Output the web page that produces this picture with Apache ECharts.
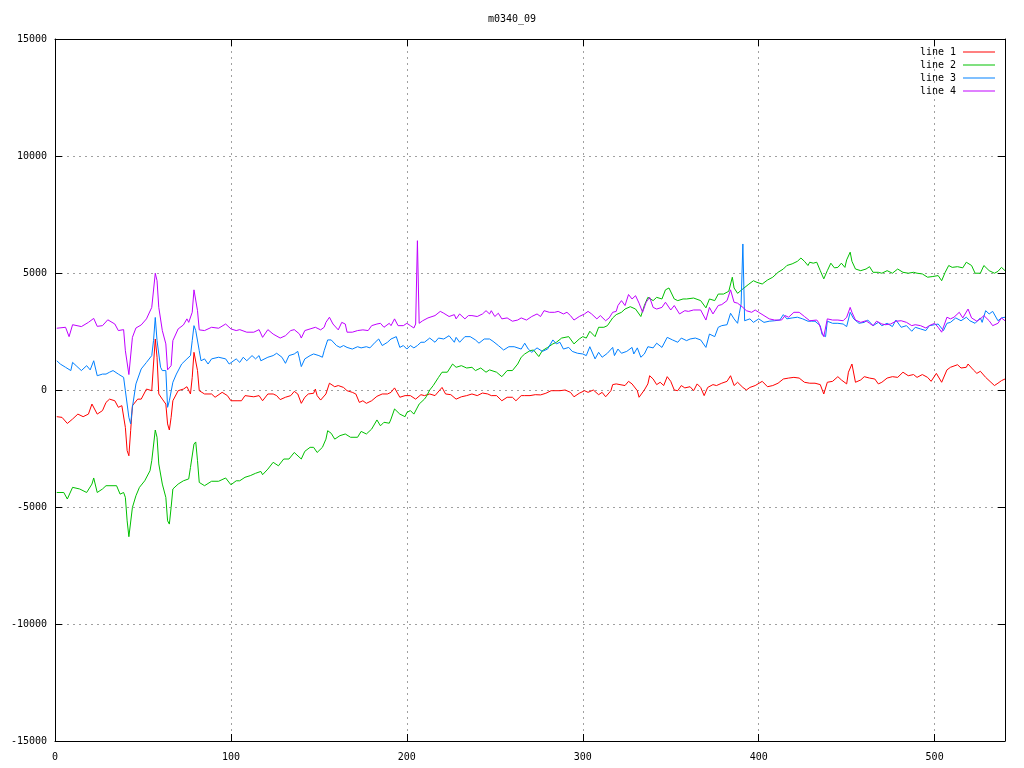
<!DOCTYPE html>
<html>
<head>
<meta charset="utf-8">
<script src="https://cdn.jsdelivr.net/npm/echarts@6/dist/echarts.min.js"></script>
<style>html,body{margin:0;padding:0;background:#fff}#c{width:1024px;height:768px}</style>
</head>
<body>
<div id="c"></div>
<script>
const chartTitle = 'm0340_09';
const seriesNames = ['line 1', 'line 2', 'line 3', 'line 4'];
const xTicks = [0, 100, 200, 300, 400, 500];
const yTicks = [-15000, -10000, -5000, 0, 5000, 10000, 15000];

const line1 = [[1,-1140],[4,-1170],[7,-1430],[10,-1240],[13,-1030],[16,-1140],[19,-1030],[21,-600],[24,-1030],[27,-880],[29,-530],[31,-390],[34,-460],[36,-740],[38,-670],[40,-1600],[41,-2590],[42,-2810],[43,-1740],[44,-670],[47,-390],[49,-390],[52,40],[55,-30],[56,1110],[57,2180],[58,1400],[59,-170],[61,-390],[63,-600],[64,-1450],[65,-1710],[66,-1170],[67,-460],[70,-30],[73,40],[75,140],[77,-170],[78,540],[79,1610],[80,1540],[81,830],[82,-30],[85,-170],[89,-170],[91,-310],[95,-100],[98,-240],[100,-460],[104,-460],[106,-460],[108,-240],
[109,-240],[113,-290],[116,-240],[118,-460],[121,-170],[124,-170],[126,-240],[128,-410],[131,-310],[134,-240],[136,-60],[138,-170],[140,-570],[142,-310],[144,-170],[147,-140],[148,40],[149,-240],[151,-430],[154,-170],[156,290],[159,140],[161,190],[164,110],[166,-30],[169,-100],[171,-170],[173,-530],[175,-460],[177,-570],[180,-460],[183,-270],[186,-170],[189,-170],[191,-100],[193,90],[194,140],[196,-310],[199,-240],[202,-240],[205,-390],[208,-200],[210,-240],
[213,-170],[216,-240],[220,110],[222,-170],[225,-200],[228,-390],[231,-290],[234,-240],[237,-170],[240,-240],[243,-130],[246,-170],[248,-240],[251,-240],[254,-460],[257,-310],[260,-310],[262,-460],[265,-240],[267,-240],[270,-240],[273,-200],[276,-210],[279,-140],[282,-30],[284,-30],[287,-30],[290,0],[293,-100],[295,-290],[298,-140],[301,-30],[303,-100],[306,0],[309,-200],[311,-100],[313,-290],[316,-30],[317,230],[319,260],
[320,200],[324,190],[326,370],[328,260],[331,-30],[332,-310],[335,0],[337,260],[338,610],[340,470],[342,230],[344,330],[346,190],[348,570],[350,370],[352,0],[354,-30],[356,190],[358,90],[361,140],[363,-30],[365,260],[367,110],[369,-240],[371,110],[374,230],[376,190],[379,290],[382,370],[384,610],[386,190],[388,330],[391,110],[393,0],[395,110],[398,190],[402,370],[405,140],[408,190],[411,290],[414,470],[417,510],[420,540],[423,510],[426,330],[429,290],
[430,230],[432,290],[435,230],[437,-170],[439,330],[442,370],[445,570],[447,430],[450,260],[451,760],[453,1110],[455,330],[458,430],[460,570],[463,510],[466,470],[468,260],[470,330],[473,510],[476,570],[479,540],[482,760],[485,610],[488,660],[490,540],[493,660],[496,540],[498,370],[501,710],[504,330],[507,860],[509,970],[513,1080],[515,940],[518,970],[519,1110],[522,860],[524,710],[526,800],[529,540],[532,330],[534,190],[536,290],[538,400],[540,470]];

const line2 = [[1,-4380],[5,-4380],[7,-4660],[10,-4160],[14,-4230],[18,-4380],[21,-4020],[22,-3760],[24,-4380],[27,-4230],[29,-4090],[35,-4090],[37,-4450],[39,-4380],[40,-4590],[41,-5590],[42,-6270],[43,-6230],[44,-5020],[46,-4520],[48,-4160],[51,-3880],[54,-3450],[55,-3020],[57,-1710],[58,-2020],[59,-3160],[61,-4020],[63,-4590],[64,-5590],[65,-5730],[66,-5020],[67,-4230],[70,-4020],[73,-3880],[76,-3800],[77,-3310],[79,-2310],[80,-2220],[81,-3020],[82,-3950],[85,-4090],[89,-3900],[93,-3900],[97,-3760],[100,-4050],[103,-3880],
[105,-3880],[108,-3730],[111,-3660],[114,-3560],[117,-3480],[118,-3620],[121,-3380],[124,-3090],[127,-3240],[130,-2950],[133,-2950],[136,-2670],[137,-2590],[140,-2950],[142,-2620],[145,-2450],[147,-2450],[149,-2670],[152,-2450],[154,-2100],[155,-1740],[157,-1850],[159,-2100],[162,-1950],[165,-1880],[168,-2020],[172,-2020],[174,-1770],[177,-1880],[180,-1670],[183,-1280],[185,-1530],[187,-1380],[190,-1420],[191,-1240],[193,-810],[196,-1030],[199,-1140],[200,-960],[202,-880],[204,-1030],[207,-600],[210,-390],[211,-290],[213,0],
[215,190],[218,540],[220,760],[223,760],[226,1110],[228,970],[231,1040],[234,940],[237,970],[239,830],[242,940],[245,760],[247,860],[251,760],[254,570],[257,830],[260,830],[263,1110],[265,1400],[267,1540],[270,1680],[272,1710],[275,1430],[277,1680],[280,1820],[283,1970],[285,2040],[288,2220],[292,2280],[295,1970],[298,2180],[300,2280],[302,2220],[304,2510],[307,2280],[309,2680],[312,2680],[314,2750],[317,3080],[319,3220],
[322,3320],[324,3460],[327,3560],[330,3460],[333,3140],[335,3610],[337,3960],[340,3820],[342,3960],[345,3890],[347,4280],[349,4360],[352,3890],[354,3820],[357,3890],[359,3890],[363,3930],[367,3820],[370,3510],[372,3890],[375,3820],[377,4100],[380,4100],[383,4220],[385,4820],[386,4360],[388,4130],[391,4320],[394,4500],[397,4670],[399,4600],[402,4530],[405,4700],[408,4820],[411,5030],[414,5170],[416,5320],[419,5390],[422,5500],[424,5640],[426,5500],[428,5320],[429,5460],
[431,5420],[433,5460],[435,5100],[437,4750],[439,5100],[441,5420],[443,5220],[445,5240],[447,5420],[449,5240],[450,5560],[452,5890],[453,5500],[455,5170],[458,5100],[461,5170],[463,5270],[465,5030],[468,5030],[470,4990],[473,5100],[476,4990],[479,5170],[482,5030],[485,4990],[488,5030],[490,4990],[493,4960],[496,4820],[499,4850],[502,4890],[504,4670],[506,5030],[508,5320],[510,5240],[513,5270],[516,5220],[518,5460],[521,5320],[523,4990],[526,4990],[528,5320],[531,5100],[534,4990],[536,5070],[538,5240],[540,5100]];

const line3 = [[1,1250],[3,1110],[6,970],[9,830],[10,1180],[12,1040],[15,830],[18,1040],[20,860],[22,1250],[24,610],[27,680],[29,680],[31,760],[33,830],[36,680],[39,540],[40,-30],[42,-1170],[43,-1450],[44,-740],[46,260],[49,900],[52,1180],[55,1470],[56,2110],[57,3100],[58,2110],[60,970],[61,830],[63,830],[64,-740],[65,-460],[67,330],[69,680],[72,1110],[75,1330],[77,1470],[78,2110],[79,2750],[80,2540],[82,1680],[83,1250],[85,1330],[87,1110],[89,1330],[93,1400],[97,1330],[99,1110],[103,1330],
[105,1180],[107,1400],[109,1250],[112,1470],[114,1330],[116,1470],[117,1250],[121,1400],[124,1470],[126,1570],[129,1400],[131,1140],[133,1470],[136,1540],[138,1650],[139,1330],[140,1000],[142,1330],[145,1470],[147,1540],[150,1470],[152,1400],[153,1680],[155,2140],[157,2140],[160,1900],[162,1820],[164,1900],[166,1820],[169,1750],[172,1850],[174,1800],[177,1850],[179,1800],[182,2040],[184,2180],[186,1900],[189,2040],[191,2180],[194,2280],[196,1820],[198,1900],[200,1750],[202,1900],[204,1800],[206,1900],[208,2040],[210,2040],[211,2110],[213,2220],
[216,2040],[218,2220],[221,2180],[224,2320],[227,2040],[228,2250],[230,2040],[233,2280],[236,2280],[239,2140],[241,2000],[244,2180],[247,2180],[249,2080],[252,1900],[255,1710],[258,1850],[261,1850],[265,1750],[267,2000],[269,1750],[271,1610],[274,1800],[277,1650],[280,1750],[283,2140],[285,1970],[287,2040],[289,1750],[292,1820],[294,1650],[297,1570],[300,1540],[302,1470],[304,1850],[307,1330],[309,1610],[311,1400],[314,1570],[317,1820],[318,1470],
[320,1750],[322,1570],[325,1650],[328,1820],[329,1540],[331,1800],[333,1400],[335,1540],[337,1850],[340,1800],[342,2000],[345,1820],[348,2250],[351,2140],[354,2040],[356,2220],[359,2110],[361,2180],[364,2220],[367,2140],[370,1820],[372,2390],[375,2280],[377,2680],[379,2750],[382,2790],[384,3280],[386,3040],[388,2850],[389,3280],[390,3680],[391,6240],[392,2960],[395,3040],[397,2890],[400,3040],[403,2890],[406,2940],[409,2960],[412,2990],[414,3220],[416,3040],[419,3080],[422,3110],[425,3040],[428,2940],[429,2990],
[430,2940],[432,2940],[435,2750],[436,2370],[438,2280],[439,2940],[442,2850],[445,2850],[448,2820],[450,2710],[452,3320],[454,3040],[457,2850],[460,2890],[462,2990],[465,2750],[468,2890],[470,2750],[473,2850],[476,2710],[478,2990],[481,2680],[484,2750],[487,2510],[489,2680],[492,2610],[495,2540],[497,2750],[500,2790],[502,2820],[505,2540],[507,2850],[509,2890],[512,3080],[515,2960],[518,3110],[520,2960],[523,2850],[526,3080],[527,2890],[529,3390],[531,3250],[533,3360],[536,2960],[538,3080],[540,3110]];

const line4 = [[1,2640],[6,2680],[8,2280],[10,2790],[15,2710],[19,2890],[22,3060],[24,2720],[27,2750],[30,3000],[34,2820],[36,2540],[39,2580],[40,1680],[42,660],[43,680],[44,2250],[46,2650],[49,2780],[52,3040],[55,3530],[57,4990],[58,4670],[59,3530],[61,2540],[63,1970],[64,860],[66,1040],[67,2110],[70,2610],[73,2780],[75,3040],[76,2890],[78,3320],[79,4280],[80,4320],[81,3390],[82,2570],[85,2540],[89,2680],[93,2640],[97,2820],[100,2610],[103,2540],
[105,2580],[109,2470],[113,2470],[116,2580],[118,2250],[121,2580],[124,2390],[128,2220],[131,2320],[134,2540],[136,2580],[139,2390],[140,2220],[142,2540],[145,2610],[148,2680],[151,2570],[153,2680],[154,2890],[156,3110],[158,2820],[161,2570],[163,2890],[165,2820],[166,2470],[169,2470],[172,2540],[175,2570],[178,2540],[180,2750],[183,2820],[185,2850],[187,2680],[190,2850],[191,2750],[193,3040],[195,2750],[198,2750],[200,2850],[202,2750],[204,2650],[205,2820],[206,6380],[207,2850],[209,2960],[210,2990],[212,3080],
[216,3180],[219,3360],[221,3280],[224,3140],[227,3220],[228,3040],[230,3250],[233,3040],[235,3180],[237,3180],[240,3140],[243,3250],[245,3390],[247,3250],[248,3390],[250,3140],[252,3280],[254,3040],[257,3080],[260,2940],[263,2990],[265,3080],[268,2990],[271,3140],[274,3250],[276,3140],[278,3390],[281,3320],[284,3320],[286,3360],[289,3250],[291,3320],[293,3180],[295,2990],[298,3140],[301,3250],[303,3360],[305,3250],[308,3040],[310,3180],[313,2960],[315,3080],[317,3320],[319,3360],
[320,3610],[322,3820],[324,3610],[326,4080],[328,3890],[330,4030],[332,3710],[334,3320],[336,3750],[338,3960],[340,3530],[342,3460],[345,3530],[347,3750],[350,3420],[352,3610],[355,3250],[358,3390],[360,3360],[363,3420],[367,3420],[370,2990],[372,3530],[374,3250],[377,3610],[379,3650],[382,3820],[384,4280],[386,3750],[388,3710],[391,3530],[393,3390],[396,3320],[398,3420],[400,3320],[403,3180],[406,3040],[409,2990],[413,2990],[415,3180],[417,3110],[420,3320],[423,3320],[426,3140],[429,2960],
[430,2990],[433,2990],[434,2890],[436,2470],[437,2280],[439,3040],[442,2990],[445,2990],[448,2960],[450,3110],[452,3530],[453,3320],[455,2990],[458,2890],[461,2960],[463,2850],[465,2750],[467,2940],[470,2820],[472,2790],[475,2820],[478,2940],[481,2960],[484,2890],[487,2750],[489,2790],[492,2750],[495,2650],[497,2750],[500,2850],[502,2680],[504,2470],[507,3110],[509,3040],[511,3110],[514,3320],[516,3080],[519,3460],[521,3080],[524,2940],[526,3040],[528,3180],[531,2960],[533,2750],[536,2850],[538,3080],[540,2960]];

const seriesData = [line1, line2, line3, line4];
const colors = ['#ff0000', '#00c000', '#0080ff', '#c000ff'];
const FONT = '"DejaVu Sans Mono", "Liberation Mono", monospace';

const xMin = xTicks[0], xMax = 540, xInt = xTicks[1] - xTicks[0];
const yMin = yTicks[0], yMax = yTicks[yTicks.length - 1], yInt = yTicks[1] - yTicks[0];

const gridLine = { show: true, lineStyle: { color: '#a0a0a0', width: 1, type: [2, 4] } };
const frameLine = { show: true, onZero: false, lineStyle: { color: '#000', width: 1 } };
const tickIn = { show: true, inside: true, length: 7, lineStyle: { color: '#000' } };
const plain = v => String(v);

const chart = echarts.init(document.getElementById('c'), null, { renderer: 'canvas' });
chart.setOption({
  animation: false,
  backgroundColor: '#fff',
  color: colors,
  title: {
    text: chartTitle, left: 'center', top: 9,
    textStyle: { fontFamily: FONT, fontSize: 10, fontWeight: 'normal', color: '#000' }
  },
  legend: {
    data: seriesNames.map((n, i) => ({ name: n, icon: 'rect', itemStyle: { color: colors[i] } })),
    orient: 'vertical', right: 24, top: 41, align: 'right',
    itemWidth: 32, itemHeight: 1, itemGap: 1,
    textStyle: { fontFamily: FONT, fontSize: 10, color: '#000', lineHeight: 12, padding: [0, 2, 0, 0] }
  },
  grid: { left: 55, right: 19, top: 39, bottom: 27, containLabel: false },
  xAxis: [
    { type: 'value', min: xMin, max: xMax, interval: xInt, position: 'bottom',
      axisLine: frameLine, axisTick: tickIn, splitLine: gridLine,
      axisLabel: { fontFamily: FONT, fontSize: 10, color: '#000', margin: 11, showMaxLabel: false, formatter: plain } },
    { type: 'value', min: xMin, max: xMax, interval: xInt, position: 'top',
      axisLine: frameLine, axisTick: tickIn, splitLine: { show: false }, axisLabel: { show: false } }
  ],
  yAxis: [
    { type: 'value', min: yMin, max: yMax, interval: yInt, position: 'left',
      axisLine: frameLine, axisTick: tickIn, splitLine: gridLine,
      axisLabel: { fontFamily: FONT, fontSize: 10, color: '#000', margin: 8, formatter: plain } },
    { type: 'value', min: yMin, max: yMax, interval: yInt, position: 'right',
      axisLine: frameLine, axisTick: tickIn, splitLine: { show: false }, axisLabel: { show: false } }
  ],
  series: seriesNames.map((n, i) => ({
    name: n, type: 'line', data: seriesData[i], xAxisIndex: 0, yAxisIndex: 0,
    symbol: 'none', showSymbol: false, smooth: false,
    lineStyle: { color: colors[i], width: 1 }, itemStyle: { color: colors[i] }
  }))
});
</script>
</body>
</html>
